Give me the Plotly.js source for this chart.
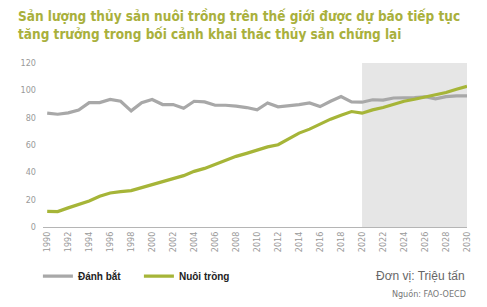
<!DOCTYPE html>
<html>
<head>
<meta charset="utf-8">
<script src="https://cdn.plot.ly/plotly-3.0.1.min.js"></script>
<style>
  html, body { margin: 0; padding: 0; background: #fff; }
  #chart { width: 487px; height: 307px; }
</style>
</head>
<body>
<div id="chart"></div>
<script>
    // Triệu tấn, 1990-2030 (2021-2030 là dự báo)
    const years = [];
    for (let y = 1990; y <= 2030; y++) years.push(y);

    const danhBat = [83.3, 82.5, 83.5, 85.5, 91, 91, 93.3, 92, 85, 91,
                     93.3, 89.6, 89.6, 86.9, 92, 91.5, 89.1, 89.1, 88.4, 87.4,
                     85.8, 90.8, 87.9, 88.6, 89.6, 90.8, 88.1, 92, 95.4, 91.5,
                     91.3, 93.1, 92.8, 94.4, 94.5, 94.7, 95.3, 93.8, 95.4, 96, 96];

    const nuoiTrong = [11.5, 11.3, 14, 16.4, 19.1, 22.5, 24.9, 25.9, 26.6, 28.8,
                       31.2, 33.4, 35.4, 37.6, 40.7, 42.9, 45.8, 48.8, 51.7, 53.9,
                       56.3, 58.6, 60.2, 64.3, 68.7, 71.6, 75.3, 78.9, 81.8, 84.5,
                       83.3, 85.7, 87.4, 89.9, 92, 93.5, 95.2, 96.4, 98.4, 100.8, 103];

    const seriesNames = ['Đánh bắt', 'Nuôi trồng'];
    const forecastStart = 2020;
    const forecastEnd = 2030;
    const xTicks = years.filter(y => y % 2 === 0);

    const narrow = '"DejaVu Sans Condensed", sans-serif';
    const axisFont = { family: narrow, size: 9, color: '#9a9a9a' };

    const traces = [
        {
            x: years, y: danhBat, name: seriesNames[0],
            type: 'scatter', mode: 'lines',
            line: { color: '#a8a8a8', width: 3.2 }
        },
        {
            x: years, y: nuoiTrong, name: seriesNames[1],
            type: 'scatter', mode: 'lines',
            line: { color: '#a6b538', width: 3.2 }
        }
    ];

    const layout = {
        width: 487,
        height: 307,
        margin: { l: 43, r: 20, t: 63, b: 80 },
        paper_bgcolor: '#fff',
        plot_bgcolor: '#fff',
        title: {
            text: 'Sản lượng thủy sản nuôi trồng trên thế giới được dự báo tiếp tục<br>tăng trưởng trong bối cảnh khai thác thủy sản chững lại',
            font: { family: narrow, size: 13.5, weight: 'bold', color: '#a9b03c' },
            xref: 'container', x: 18 / 487, xanchor: 'left',
            yref: 'container', y: 0.93, yanchor: 'top'
        },
        xaxis: {
            range: [1989.6, 2030],
            tickvals: xTicks,
            ticktext: xTicks.map(String),
            tickangle: -90,
            tickfont: axisFont,
            showgrid: false,
            zeroline: false,
            showline: true,
            linecolor: '#b5b5b5',
            linewidth: 1,
            ticks: '',
            fixedrange: true
        },
        yaxis: {
            range: [0, 120],
            dtick: 20,
            tickfont: axisFont,
            showgrid: false,
            zeroline: false,
            showline: false,
            ticks: '',
            ticklabelstandoff: 6,
            fixedrange: true
        },
        shapes: [{
            type: 'rect', layer: 'below',
            xref: 'x', yref: 'y',
            x0: forecastStart, x1: forecastEnd, y0: 0, y1: 120,
            fillcolor: '#e6e6e6', line: { width: 0 }
        }],
        showlegend: true,
        legend: {
            orientation: 'h',
            x: -0.012, xanchor: 'left',
            y: -0.3, yanchor: 'middle',
            font: { family: '"Liberation Sans", Arial, sans-serif', size: 10, weight: 'bold', color: '#222' },
            entrywidth: 56,
            bgcolor: 'rgba(0,0,0,0)'
        },
        annotations: [
            {
                text: 'Đơn vị: Triệu tấn',
                xref: 'paper', yref: 'paper', x: 1.0, y: -0.3,
                xanchor: 'right', yanchor: 'middle', showarrow: false,
                font: { family: '"Liberation Sans", Arial, sans-serif', size: 12, color: '#666' }
            },
            {
                text: 'Nguồn: FAO-OECD',
                xref: 'paper', yref: 'paper', x: 1.0, y: -0.41,
                xanchor: 'right', yanchor: 'middle', showarrow: false,
                width: 110, height: 14, align: 'right', borderpad: 0,
                font: { family: narrow, size: 9, color: '#777' }
            }
        ]
    };

    Plotly.newPlot('chart', traces, layout, { displayModeBar: false, staticPlot: true });
</script>
</body>
</html>
